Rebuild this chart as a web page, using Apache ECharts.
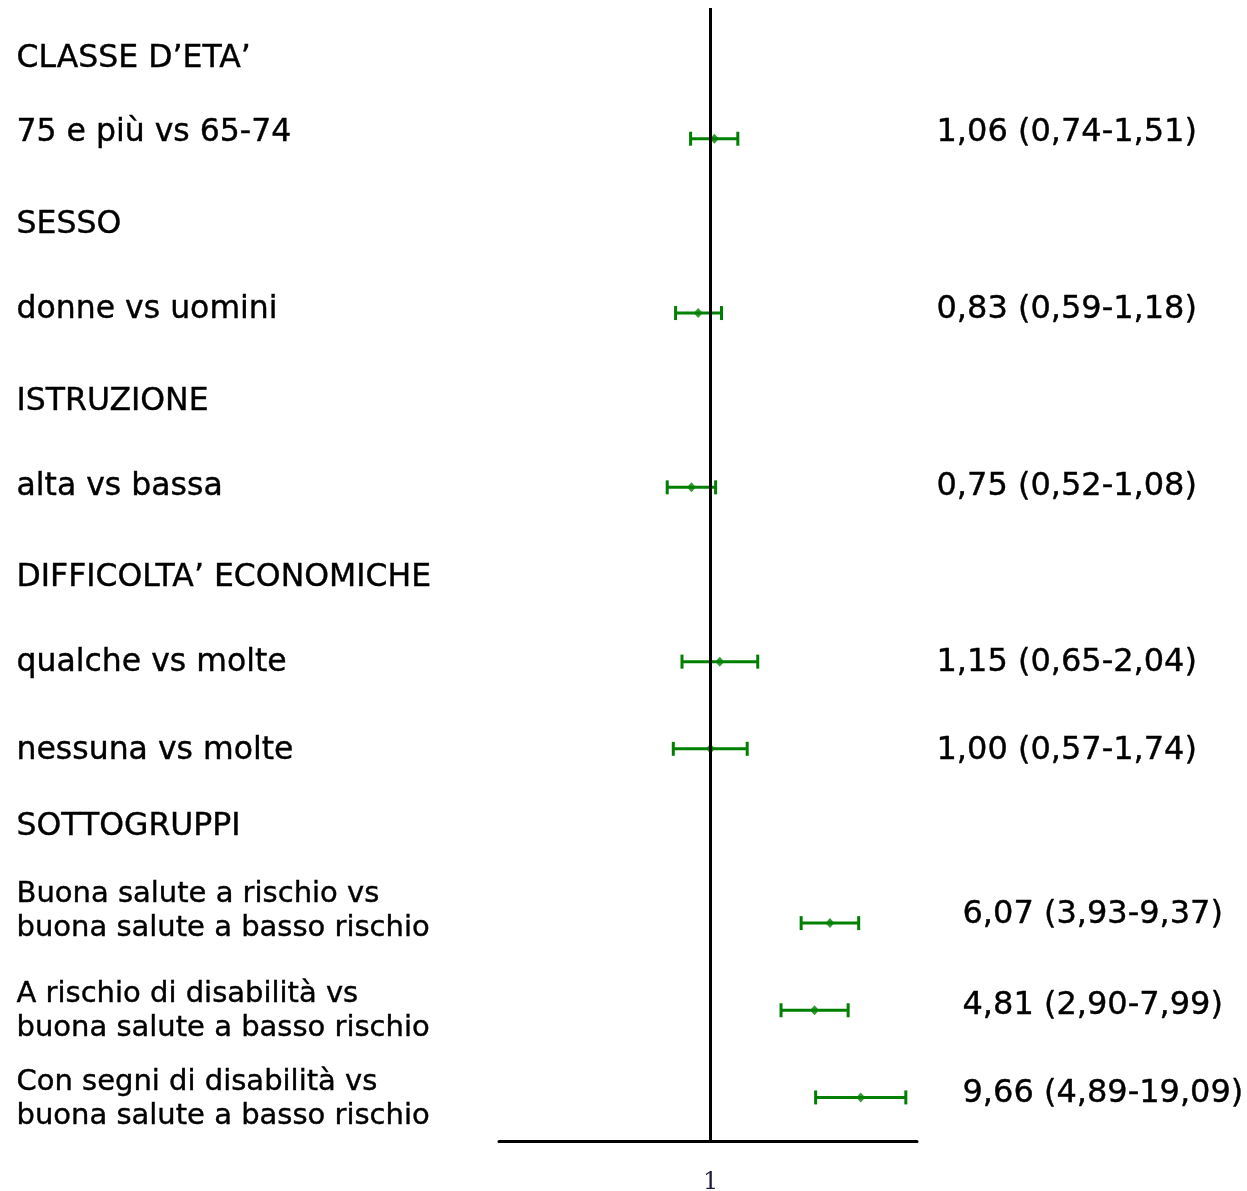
<!DOCTYPE html>
<html>
<head>
<meta charset="utf-8">
<title>Odds ratio per sottogruppi</title>
<script src="https://cdn.jsdelivr.net/npm/echarts@6/dist/echarts.min.js"></script>
<style>
  html, body { margin: 0; padding: 0; background: #ffffff; }
  #chart { width: 1247px; height: 1191px; }
</style>
</head>
<body>
<div id="chart"></div>
<script>
// Group headings and the comparisons listed under them
const groups = ['CLASSE D’ETA’', 'SESSO', 'ISTRUZIONE', 'DIFFICOLTA’ ECONOMICHE', 'SOTTOGRUPPI'];
const comparisons = [
  '75 e più vs 65-74',
  'donne vs uomini',
  'alta vs bassa',
  'qualche vs molte',
  'nessuna vs molte',
  'Buona salute a rischio vs\nbuona salute a basso rischio',
  'A rischio di disabilità vs\nbuona salute a basso rischio',
  'Con segni di disabilità vs\nbuona salute a basso rischio'
];
// Odds ratio with 95% confidence interval
const oddsRatio = [1.06, 0.83, 0.75, 1.15, 1.00, 6.07, 4.81, 9.66];
const ciLower   = [0.74, 0.59, 0.52, 0.65, 0.57, 3.93, 2.90, 4.89];
const ciUpper   = [1.51, 1.18, 1.08, 2.04, 1.74, 9.37, 7.99, 19.09];
const axisTicks = [1];

// Layout: vertical row slots (0 = top of the plot, 13 = axis line)
const groupSlot = [0.58, 2.49, 4.52, 6.54, 9.39];
const itemSlot  = [1.5, 3.5, 5.5, 7.5, 8.5, 10.5, 11.5, 12.5];
const itemTextSlot  = [1.43, 3.46, 5.49, 7.51, 8.52, 10.37, 11.51, 12.52];
const valueTextSlot = [1.43, 3.46, 5.49, 7.51, 8.52, 10.4, 11.45, 12.46];
const subgroupFrom = 5;

const fmt = v => v.toFixed(2).replace('.', ',');
const orText = oddsRatio.map((v, i) => `${fmt(v)} (${fmt(ciLower[i])}-${fmt(ciUpper[i])})`);

const GREEN = '#008000';
const FONT = 'DejaVu Sans';
const TOP = 8, BOTTOM = 50, SLOTS = 13;

const textLabel = (size, lh) => ({
  show: true, position: 'right', distance: 0,
  formatter: p => p.name,
  color: '#000000', opacity: 1,
  textBorderColor: '#000000', textBorderWidth: 0.4,
  fontFamily: FONT, fontSize: size, lineHeight: lh,
  align: 'left', verticalAlign: 'middle'
});

const yAxisDef = idx => ({
  gridIndex: idx, type: 'value', min: 0, max: SLOTS, inverse: true, show: false
});

const gridDef = extra => Object.assign({
  top: TOP, bottom: BOTTOM, containLabel: false, outerBoundsMode: 'none'
}, extra);

const chart = echarts.init(document.getElementById('chart'), null, { renderer: 'canvas' });

chart.setOption({
  animation: false,
  backgroundColor: '#ffffff',
  grid: [
    gridDef({ left: 16, width: 470 }),
    gridDef({ left: 499, right: 330 }),
    gridDef({ left: 936, width: 305 })
  ],
  xAxis: [
    { gridIndex: 0, type: 'value', min: 0, max: 1, show: false },
    {
      gridIndex: 1, type: 'log', logBase: 10, min: 0.041, max: 22.6,
      position: 'bottom',
      axisLine: { show: true, onZero: false, lineStyle: { color: '#000000', width: 3 } },
      axisTick: { show: false },
      splitLine: { show: false },
      axisLabel: {
        margin: 30, color: '#1c1c3c', fontFamily: 'DejaVu Serif', fontSize: 24,
        formatter: v => axisTicks.some(t => Math.abs(v - t) < 1e-9) ? String(v) : ''
      }
    },
    { gridIndex: 2, type: 'value', min: 0, max: 1, show: false }
  ],
  yAxis: [yAxisDef(0), yAxisDef(1), yAxisDef(2)],
  series: [
    // group headings
    {
      type: 'scatter', xAxisIndex: 0, yAxisIndex: 0, symbolSize: 1,
      itemStyle: { color: 'transparent' }, silent: true,
      label: textLabel(31.5, 35),
      data: groups.map((g, i) => ({ name: g, value: [0, groupSlot[i]] }))
    },
    // comparison labels
    {
      type: 'scatter', xAxisIndex: 0, yAxisIndex: 0, symbolSize: 1,
      itemStyle: { color: 'transparent' }, silent: true,
      label: textLabel(31.5, 35),
      data: comparisons.map((c, i) => ({
        name: c, value: [0, itemTextSlot[i]],
        label: i >= subgroupFrom ? { fontSize: 29, lineHeight: 34 } : {}
      }))
    },
    // odds ratio text column
    {
      type: 'scatter', xAxisIndex: 2, yAxisIndex: 2, symbolSize: 1,
      itemStyle: { color: 'transparent' }, silent: true,
      label: textLabel(32, 35),
      data: orText.map((t, i) => ({
        name: t, value: [0, valueTextSlot[i]],
        label: i >= subgroupFrom ? { offset: [26, 0] } : {}
      }))
    },
    // confidence interval whiskers
    {
      type: 'custom', xAxisIndex: 1, yAxisIndex: 1, z: 2, silent: true,
      data: comparisons.map((c, i) => [ciLower[i], ciUpper[i], itemSlot[i]]),
      renderItem: (params, api) => {
        const a = api.coord([api.value(0), api.value(2)]);
        const b = api.coord([api.value(1), api.value(2)]);
        const h = 7;
        const style = { stroke: GREEN, lineWidth: 3 };
        return {
          type: 'group',
          children: [
            { type: 'line', shape: { x1: a[0], y1: a[1], x2: b[0], y2: b[1] }, style },
            { type: 'line', shape: { x1: a[0], y1: a[1] - h, x2: a[0], y2: a[1] + h }, style },
            { type: 'line', shape: { x1: b[0], y1: b[1] - h, x2: b[0], y2: b[1] + h }, style }
          ]
        };
      }
    },
    // reference line at OR = 1
    {
      type: 'line', xAxisIndex: 1, yAxisIndex: 1, z: 3, data: [], silent: true,
      markLine: {
        silent: true, symbol: 'none', animation: false,
        label: { show: false },
        lineStyle: { color: '#000000', width: 3, type: 'solid' },
        data: [{ xAxis: axisTicks[0] }]
      }
    },
    // point estimates
    {
      type: 'scatter', xAxisIndex: 1, yAxisIndex: 1, z: 4, silent: true,
      symbol: 'diamond', symbolSize: [9, 10],
      itemStyle: { color: GREEN },
      data: oddsRatio.map((v, i) => [v, itemSlot[i]])
    }
  ]
});
</script>
</body>
</html>
